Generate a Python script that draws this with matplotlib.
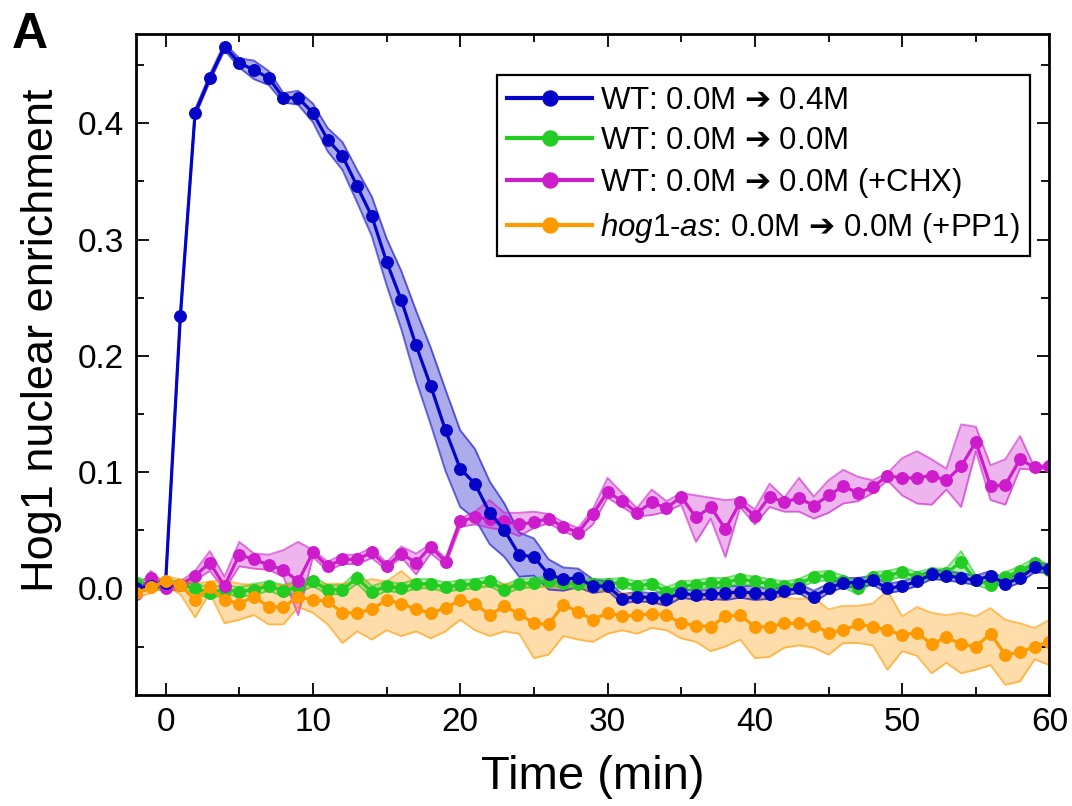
import numpy as np
import matplotlib
matplotlib.use("Agg")
import matplotlib.pyplot as plt
from matplotlib.ticker import MultipleLocator, FormatStrFormatter

plt.rcParams['font.family'] = ['Liberation Sans', 'DejaVu Sans']
plt.rcParams['mathtext.fontset'] = 'custom'
plt.rcParams['mathtext.rm'] = 'Liberation Sans'
plt.rcParams['mathtext.it'] = 'Liberation Sans:italic'
plt.rcParams['mathtext.sf'] = 'DejaVu Sans'

# time points (min)
time = list(range(-2, 61))

# WT: 0.0M -> 0.4M
wt_osmo = [0.000, 0.002, 0.005, 0.234, 0.409, 0.439, 0.466, 0.452, 0.446, 0.439,
           0.422, 0.422, 0.409, 0.386, 0.372, 0.346, 0.320, 0.281, 0.248, 0.209,
           0.174, 0.136, 0.103, 0.090, 0.065, 0.050, 0.029, 0.027, 0.012, 0.008,
           0.009, 0.002, 0.002, -0.009, -0.007, -0.008, -0.009, -0.004, -0.006, -0.005,
           -0.004, -0.003, -0.004, -0.005, -0.002, 0.000, -0.007, 0.000, 0.005, 0.005,
           0.007, 0.000, 0.002, 0.006, 0.012, 0.011, 0.009, 0.007, 0.011, 0.004,
           0.009, 0.018, 0.017]
wt_osmo_err = [0.003, 0.003, 0.003, 0.003, 0.003, 0.003, 0.003, 0.004, 0.008, 0.006,
               0.004, 0.006, 0.008, 0.010, 0.012, 0.014, 0.017, 0.020, 0.025, 0.030,
               0.033, 0.035, 0.033, 0.030, 0.027, 0.023, 0.019, 0.016, 0.013, 0.010,
               0.008, 0.006, 0.004, 0.004, 0.004, 0.004, 0.006, 0.004, 0.004, 0.004,
               0.006, 0.005, 0.006, 0.004, 0.004, 0.004, 0.005, 0.004, 0.004, 0.004,
               0.004, 0.004, 0.004, 0.004, 0.004, 0.004, 0.004, 0.004, 0.004, 0.004,
               0.004, 0.004, 0.004]

# WT: 0.0M -> 0.0M
wt_ctrl = [0.005, 0.003, 0.002, 0.003, 0.000, -0.004, -0.001, -0.003, -0.001, 0.002,
           -0.002, 0.001, 0.006, -0.001, -0.001, 0.009, -0.003, 0.002, 0.000, 0.004,
           0.004, 0.001, 0.003, 0.004, 0.006, -0.001, 0.004, 0.005, 0.006, 0.005,
           0.004, 0.004, 0.004, 0.005, 0.002, 0.004, -0.003, 0.002, 0.003, 0.005,
           0.005, 0.008, 0.006, 0.004, 0.002, 0.004, 0.010, 0.011, 0.006, 0.000,
           0.010, 0.011, 0.014, 0.010, 0.013, 0.013, 0.023, 0.007, 0.003, 0.010,
           0.015, 0.022, 0.016]
wt_ctrl_err = [0.004, 0.004, 0.004, 0.004, 0.004, 0.005, 0.004, 0.004, 0.005, 0.004,
               0.005, 0.005, 0.004, 0.004, 0.004, 0.005, 0.005, 0.004, 0.004, 0.004,
               0.004, 0.004, 0.004, 0.004, 0.004, 0.004, 0.004, 0.004, 0.004, 0.004,
               0.004, 0.004, 0.004, 0.004, 0.004, 0.004, 0.004, 0.004, 0.004, 0.004,
               0.004, 0.004, 0.004, 0.004, 0.004, 0.004, 0.004, 0.004, 0.005, 0.005,
               0.004, 0.004, 0.004, 0.004, 0.004, 0.004, 0.009, 0.004, 0.004, 0.004,
               0.004, 0.004, 0.004]

# WT: 0.0M -> 0.0M (+CHX)
wt_chx = [-0.005, 0.009, 0.000, 0.003, 0.011, 0.022, 0.002, 0.029, 0.025, 0.020,
          0.016, 0.006, 0.031, 0.019, 0.025, 0.025, 0.031, 0.019, 0.030, 0.022,
          0.036, 0.023, 0.058, 0.061, 0.060, 0.058, 0.055, 0.057, 0.060, 0.053,
          0.048, 0.064, 0.083, 0.075, 0.065, 0.074, 0.069, 0.079, 0.061, 0.070,
          0.051, 0.074, 0.062, 0.079, 0.074, 0.078, 0.071, 0.080, 0.088, 0.082,
          0.087, 0.097, 0.095, 0.095, 0.097, 0.093, 0.105, 0.126, 0.088, 0.089,
          0.111, 0.104, 0.105]
wt_chx_lo = [-0.008, 0.004, -0.003, 0.000, 0.007, 0.015, -0.001, 0.019, 0.017, 0.016,
             0.010, -0.023, 0.027, 0.015, 0.021, 0.021, 0.026, 0.016, 0.027, 0.012,
             0.030, 0.020, 0.053, 0.055, 0.052, 0.050, 0.045, 0.052, 0.056, 0.049,
             0.044, 0.055, 0.078, 0.070, 0.062, 0.063, 0.066, 0.072, 0.040, 0.060,
             0.027, 0.070, 0.055, 0.070, 0.066, 0.066, 0.060, 0.065, 0.073, 0.075,
             0.082, 0.093, 0.080, 0.073, 0.072, 0.085, 0.070, 0.118, 0.076, 0.072,
             0.103, 0.102, 0.103]
wt_chx_hi = [-0.002, 0.015, 0.003, 0.006, 0.015, 0.032, 0.010, 0.040, 0.030, 0.029,
             0.033, 0.040, 0.033, 0.023, 0.029, 0.029, 0.035, 0.022, 0.036, 0.030,
             0.038, 0.026, 0.060, 0.066, 0.076, 0.065, 0.065, 0.066, 0.064, 0.057,
             0.052, 0.068, 0.095, 0.082, 0.069, 0.085, 0.075, 0.082, 0.080, 0.078,
             0.076, 0.077, 0.068, 0.090, 0.078, 0.095, 0.079, 0.093, 0.102, 0.096,
             0.093, 0.099, 0.112, 0.118, 0.111, 0.103, 0.141, 0.139, 0.106, 0.111,
             0.131, 0.104, 0.108]

# hog1-as: 0.0M -> 0.0M (+PP1)
as_pp1 = [-0.004, 0.001, 0.006, 0.003, -0.010, 0.001, -0.010, -0.013, -0.007, -0.016,
          -0.016, -0.007, -0.010, -0.011, -0.021, -0.021, -0.018, -0.010, -0.013, -0.018,
          -0.021, -0.017, -0.010, -0.013, -0.023, -0.015, -0.022, -0.030, -0.031, -0.014,
          -0.020, -0.027, -0.021, -0.024, -0.023, -0.022, -0.023, -0.030, -0.032, -0.033,
          -0.024, -0.023, -0.033, -0.033, -0.030, -0.030, -0.032, -0.038, -0.036, -0.031,
          -0.033, -0.036, -0.040, -0.038, -0.048, -0.042, -0.048, -0.050, -0.039, -0.057,
          -0.055, -0.050, -0.046]
as_pp1_lo = [-0.008, -0.004, 0.002, -0.005, -0.025, -0.004, -0.030, -0.027, -0.023, -0.031,
             -0.031, -0.016, -0.021, -0.031, -0.047, -0.037, -0.044, -0.036, -0.041, -0.037,
             -0.043, -0.037, -0.027, -0.036, -0.041, -0.037, -0.039, -0.060, -0.057, -0.041,
             -0.044, -0.046, -0.039, -0.036, -0.039, -0.034, -0.036, -0.043, -0.046, -0.054,
             -0.050, -0.044, -0.060, -0.059, -0.051, -0.049, -0.051, -0.057, -0.047, -0.047,
             -0.049, -0.070, -0.054, -0.058, -0.073, -0.064, -0.073, -0.070, -0.066, -0.083,
             -0.080, -0.061, -0.066]
as_pp1_hi = [0.000, 0.006, 0.010, 0.008, 0.004, 0.006, 0.007, 0.004, 0.003, 0.003,
             0.003, 0.004, 0.003, 0.004, 0.004, 0.005, 0.008, 0.006, 0.015, 0.004,
             0.002, 0.003, 0.003, 0.002, 0.002, 0.004, 0.003, 0.002, 0.001, 0.003,
             0.002, -0.002, -0.003, -0.004, -0.006, -0.007, -0.008, -0.007, -0.005, -0.004,
             -0.002, -0.002, -0.004, -0.007, -0.008, -0.009, -0.008, -0.018, -0.015, -0.015,
             -0.013, -0.002, -0.024, -0.016, -0.021, -0.023, -0.021, -0.024, -0.017, -0.027,
             -0.030, -0.034, -0.027]

arrow = r'$\mathsf{➔}$'
labels = ['WT: 0.0M ' + arrow + ' 0.4M',
          'WT: 0.0M ' + arrow + ' 0.0M',
          'WT: 0.0M ' + arrow + ' 0.0M (+CHX)',
          r'$\mathit{hog1}$-$\mathit{as}$: 0.0M ' + arrow + ' 0.0M (+PP1)']
colors = ['#0505c8', '#22cc22', '#cc1ccc', '#ff9900']

t = np.array(time)
series = [
    (np.array(wt_osmo), np.array(wt_osmo) - np.array(wt_osmo_err), np.array(wt_osmo) + np.array(wt_osmo_err)),
    (np.array(wt_ctrl), np.array(wt_ctrl) - np.array(wt_ctrl_err), np.array(wt_ctrl) + np.array(wt_ctrl_err)),
    (np.array(wt_chx), np.array(wt_chx_lo), np.array(wt_chx_hi)),
    (np.array(as_pp1), np.array(as_pp1_lo), np.array(as_pp1_hi)),
]

fig = plt.figure(figsize=(10.72, 8.06), dpi=100)
ax = fig.add_axes([0.127, 0.138, 0.852, 0.820])

# shaded bands first
for (m, lo, hi), c in zip(series, colors):
    ax.fill_between(t, lo, hi, color=c, alpha=0.33, lw=0)
    ax.plot(t, lo, color=c, lw=1.4, alpha=0.6)
    ax.plot(t, hi, color=c, lw=1.4, alpha=0.6)

handles = [None] * 4
for i in [1, 2, 0, 3]:
    m = series[i][0]
    handles[i], = ax.plot(t, m, color=colors[i], lw=2.3, marker='o', ms=8.3,
                          label=labels[i])

ax.set_xlim(-2, 60)
ax.set_ylim(-0.0915, 0.477)
ax.xaxis.set_major_locator(MultipleLocator(10))
ax.xaxis.set_minor_locator(MultipleLocator(5))
ax.yaxis.set_major_locator(MultipleLocator(0.1))
ax.yaxis.set_minor_locator(MultipleLocator(0.05))
ax.yaxis.set_major_formatter(FormatStrFormatter('%.1f'))
ax.tick_params(which='both', direction='in', top=True, right=True, width=1.3)
ax.tick_params(which='major', length=9, labelsize=24, pad=9)
ax.tick_params(which='minor', length=6)
for s in ax.spines.values():
    s.set_linewidth(2)

ax.set_xlabel('Time (min)', fontsize=34, labelpad=12)
ax.set_ylabel('Hog1 nuclear enrichment', fontsize=32.5)
ax.yaxis.set_label_coords(-0.081, 0.537)

leg = ax.legend(handles=handles, loc='upper right', bbox_to_anchor=(0.979, 0.938),
                fontsize=22.5, fancybox=False, framealpha=1, edgecolor='black',
                handlelength=2.7, handletextpad=0.25, labelspacing=0.33,
                borderpad=0.35, borderaxespad=0, markerscale=1.3)
leg.get_frame().set_linewidth(1.6)
for line in leg.get_lines():
    line.set_linewidth(3)

fig.text(0.011, 0.9404, 'A', fontsize=36, fontweight='bold', va='baseline')

plt.savefig('out.png', dpi=100)
